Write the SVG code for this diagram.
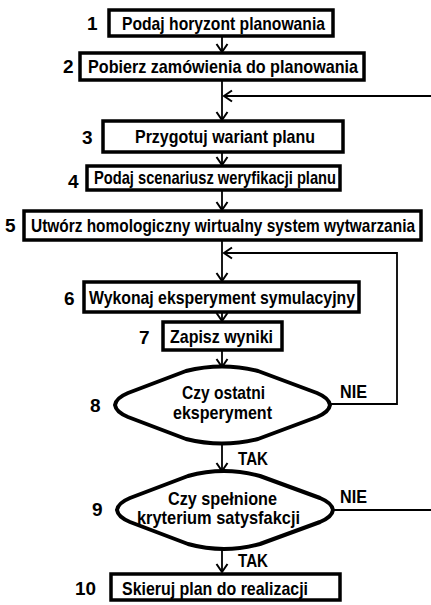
<svg xmlns="http://www.w3.org/2000/svg" width="431" height="605" viewBox="0 0 431 605">
<style>
  .box { fill: #ffffff; stroke: #000000; stroke-width: 3.5; }
  .dec { fill: #ffffff; stroke: #000000; stroke-width: 4; stroke-linejoin: round; }
  .t { font-family: "Liberation Sans Narrow", "Liberation Sans", Arial, sans-serif; font-size: 19px; font-weight: bold; fill: #000000; }
  .n { font-family: "Liberation Sans", Arial, sans-serif; font-size: 19px; font-weight: bold; fill: #000000; }
  .c { fill: none; stroke: #000000; stroke-width: 1.8; }
</style>
<defs>
  <marker id="arr" markerUnits="userSpaceOnUse" markerWidth="14" markerHeight="14" viewBox="-10 -7 12 14" refX="0" refY="0" orient="auto">
    <path d="M-8,-5.5 L0,0 L-8,5.5" fill="none" stroke="#000000" stroke-width="2"/>
  </marker>
</defs>
<rect width="431" height="605" fill="#ffffff"/>
<g id="connectors">
  <line class="c" x1="222" y1="36" x2="222" y2="52" marker-end="url(#arr)"/>
  <line class="c" x1="222" y1="80" x2="222" y2="120" marker-end="url(#arr)"/>
  <line class="c" x1="431" y1="96" x2="224" y2="96" marker-end="url(#arr)"/>
  <line class="c" x1="222" y1="152" x2="222" y2="165" marker-end="url(#arr)"/>
  <line class="c" x1="222" y1="190" x2="222" y2="210" marker-end="url(#arr)"/>
  <line class="c" x1="222" y1="240" x2="222" y2="281" marker-end="url(#arr)"/>
  <polyline class="c" points="330,404 397,404 397,253 224,253" marker-end="url(#arr)"/>
  <line class="c" x1="222" y1="312" x2="222" y2="321" marker-end="url(#arr)"/>
  <line class="c" x1="222" y1="350" x2="222" y2="367" marker-end="url(#arr)"/>
  <line class="c" x1="222" y1="442" x2="222" y2="471" marker-end="url(#arr)"/>
  <line class="c" x1="333" y1="510" x2="431" y2="510"/>
  <line class="c" x1="222" y1="548" x2="222" y2="572" marker-end="url(#arr)"/>
  <text class="n" x="238" y="465" textLength="30" lengthAdjust="spacingAndGlyphs">TAK</text>
  <text class="n" x="340" y="398" textLength="27" lengthAdjust="spacingAndGlyphs">NIE</text>
  <text class="n" x="238" y="567" textLength="30" lengthAdjust="spacingAndGlyphs">TAK</text>
  <text class="n" x="340" y="503" textLength="27" lengthAdjust="spacingAndGlyphs">NIE</text>
</g>
<g id="node1">
  <rect class="box" x="109" y="10" width="224" height="26"/>
  <text class="n" x="87" y="30">1</text>
  <text class="t" x="122" y="30" textLength="203" lengthAdjust="spacingAndGlyphs">Podaj horyzont planowania</text>
</g>
<g id="node2">
  <rect class="box" x="80" y="53" width="284" height="27"/>
  <text class="n" x="63" y="73">2</text>
  <text class="t" x="88" y="73" textLength="270" lengthAdjust="spacingAndGlyphs">Pobierz zamówienia do planowania</text>
</g>
<g id="node3">
  <rect class="box" x="103" y="121" width="240" height="31"/>
  <text class="n" x="82" y="144">3</text>
  <text class="t" x="135" y="143" textLength="180" lengthAdjust="spacingAndGlyphs">Przygotuj wariant planu</text>
</g>
<g id="node4">
  <rect class="box" x="87" y="166" width="253" height="24"/>
  <text class="n" x="68" y="188">4</text>
  <text class="t" x="94" y="184" textLength="242" lengthAdjust="spacingAndGlyphs">Podaj scenariusz weryfikacji planu</text>
</g>
<g id="node5">
  <rect class="box" x="24" y="211" width="397" height="29"/>
  <text class="n" x="5" y="232">5</text>
  <text class="t" x="31" y="232" textLength="384" lengthAdjust="spacingAndGlyphs">Utwórz homologiczny wirtualny system wytwarzania</text>
</g>
<g id="node6">
  <rect class="box" x="84" y="282" width="275" height="30"/>
  <text class="n" x="64" y="305">6</text>
  <text class="t" x="89" y="304" textLength="266" lengthAdjust="spacingAndGlyphs">Wykonaj eksperyment symulacyjny</text>
</g>
<g id="node7">
  <rect class="box" x="163" y="322" width="119" height="28"/>
  <text class="n" x="139" y="344">7</text>
  <text class="t" x="170" y="343" textLength="103" lengthAdjust="spacingAndGlyphs">Zapisz wyniki</text>
</g>
<g id="node8">
  <path class="dec" d="M115,405 Q116,398 128,393 L186,371 Q222,362 258,371 L317,393 Q329,398 330,405 Q329,412 317,417 L258,439 Q222,448 186,439 L128,417 Q116,412 115,405 Z"/>
  <text class="n" x="90" y="412">8</text>
  <text class="t" x="182" y="399" textLength="83" lengthAdjust="spacingAndGlyphs">Czy ostatni</text>
  <text class="t" x="173" y="419" textLength="99" lengthAdjust="spacingAndGlyphs">eksperyment</text>
</g>
<g id="node9">
  <path class="dec" d="M117,510 Q118,503 130,498 L188,476 Q224,466 260,476 L320,498 Q332,503 333,510 Q332,517 320,522 L260,544 Q224,554 188,544 L130,522 Q118,517 117,510 Z"/>
  <text class="n" x="92" y="516">9</text>
  <text class="t" x="168" y="505" textLength="109" lengthAdjust="spacingAndGlyphs">Czy spełnione</text>
  <text class="t" x="137" y="524" textLength="163" lengthAdjust="spacingAndGlyphs">kryterium satysfakcji</text>
</g>
<g id="node10">
  <rect class="box" x="111" y="574" width="229" height="26"/>
  <text class="n" x="75" y="595" textLength="21" lengthAdjust="spacingAndGlyphs">10</text>
  <text class="t" x="122" y="595" textLength="186" lengthAdjust="spacingAndGlyphs">Skieruj plan do realizacji</text>
</g>
</svg>
